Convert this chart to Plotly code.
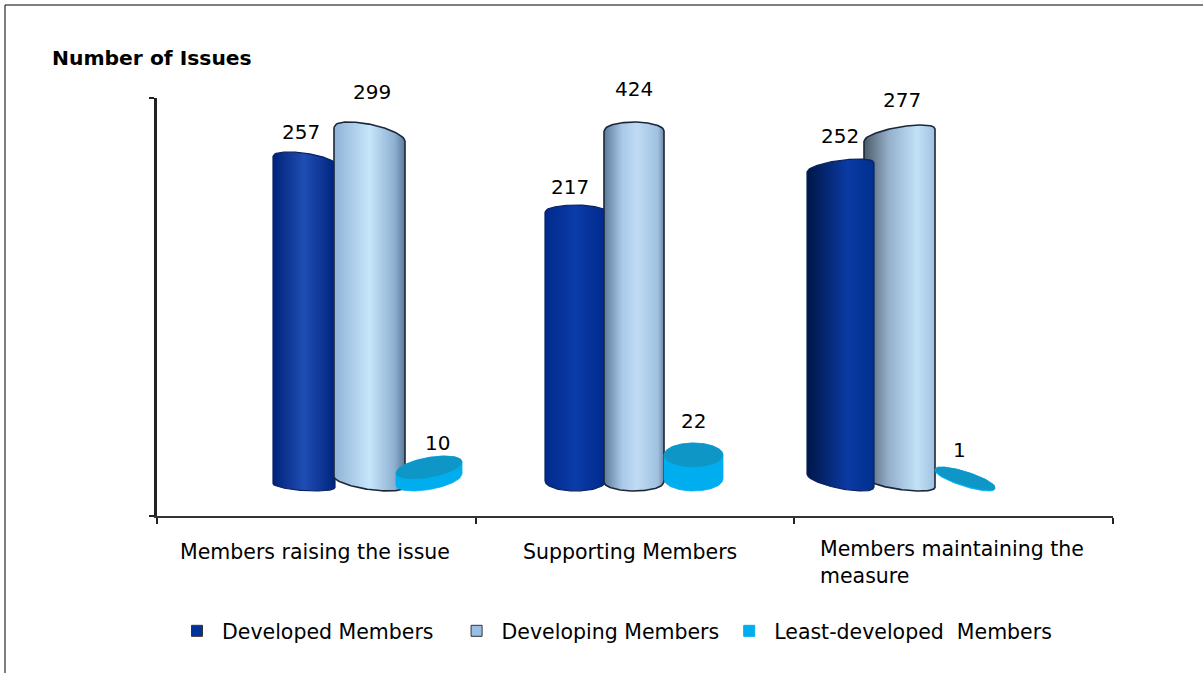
import plotly.graph_objects as go
import numpy as np

# ---- data ----
categories = ["Members raising the issue", "Supporting Members", "Members maintaining the<br>measure"]
series_names = ["Developed Members", "Developing Members", "Least-developed  Members"]
developed_values = [257, 217, 252]
developing_values = [299, 424, 277]
least_values = [10, 22, 1]
# The printed values are not proportional in the source picture, so drawn heights are read separately
developed_heights = [338, 285, 331]
developing_heights = [368, 368, 365]
least_heights = [34, 47, 23]

# ---- geometry of the pseudo 3D columns, in axis units ----
# left, right, top skew, top radius, bottom skew, bottom radius
developed_geom = [(273, 335, -4, 7, -2, 5), (545, 606, 0, 7, 0, 10), (807, 874, 4.5, 7, -6.5, 8)]
developing_geom = [(334, 405, -7, 10, -5, 8), (604, 664, 0, 9, 0, 9), (864, 935, 6, 8, -5, 7)]
least_geom = [(396, 462, 5.5, 10, 5.5, 10), (664, 723, 0, 12, 0, 12), (935, 995, -9, 7, -9, 7)]
# label centre x and centre y in figure pixels
label_pos = {"dev": [(301, 132), (570, 187), (840, 136)],
             "ing": [(372, 92), (634, 89), (902, 100)],
             "lst": [(437, 443), (693, 421), (959, 450)]}

GRAD_DEV = [[[0, "#00237a"], [0.5, "#1f4db3"], [1, "#00247e"]],
            [[0, "#002a8c"], [0.5, "#0b3ca8"], [1, "#00298c"]],
            [[0, "#001647"], [0.6, "#0b3aa3"], [1, "#00308f"]]]
GRAD_ING = [[[0, "#8fb2d6"], [0.5, "#c6e6fa"], [0.85, "#8fb0d2"], [1, "#5c7a98"]],
            [[0, "#5c7a98"], [0.3, "#a9c8e8"], [0.55, "#c0dcf4"], [0.9, "#9fc0e0"], [1, "#6d88a3"]],
            [[0, "#4c5a68"], [0.35, "#94b0cc"], [0.75, "#c2e2f8"], [1, "#a0c0e0"]]]
BODY_LST, CAP_LST = "#00aeef", "#0e96c6"
OUTLINE = "#1b2738"
LEFT_PX, RIGHT_PX, FLOOR_PX, AXIS_PX, TOP_PX = 157, 1113, 490, 516, 98
W, H = 1203, 673
FONT = "DejaVu Sans"
SIZE = 20.5


def px_x(px):
    return (px - LEFT_PX) / (RIGHT_PX - LEFT_PX)


def px_y(px):
    return (AXIS_PX - px) / (AXIS_PX - TOP_PX)


fig = go.Figure()


def half(left, right, centre, skew, radius, sign, n=60):
    """Half of a sheared ellipse: sign=+1 upper arc, -1 lower arc."""
    a = (right - left) / 2
    t = np.linspace(-1, 1, n)
    return left + a + a * t, centre + skew * t + sign * radius * np.sqrt(1 - t ** 2)


def column(height, geom, fill, line_color, name, lw=1.6):
    left, right, sk_t, r_t, sk_b, r_b = geom
    cap = height - np.hypot(sk_t, r_t)
    base = np.hypot(sk_b, r_b) - 1
    xt, yt = half(left, right, cap, sk_t, r_t, 1)
    xb, yb = half(left, right, base, sk_b, r_b, -1)
    x = np.r_[xt, xb[::-1], xt[0]]
    y = np.r_[yt, yb[::-1], yt[0]]
    fig.add_trace(go.Scatter(x=x, y=y, mode="lines", fill="toself", showlegend=False, hoverinfo="skip",
                             line=dict(color=line_color, width=lw), name=name, **fill))


def gradient(scale):
    return dict(fillgradient=dict(type="horizontal", colorscale=scale))


for g in (0, 1):
    column(developed_heights[g], developed_geom[g], gradient(GRAD_DEV[g]), "#0a2060", series_names[0], 1.2)
    column(developing_heights[g], developing_geom[g], gradient(GRAD_ING[g]), OUTLINE, series_names[1])
column(developing_heights[2], developing_geom[2], gradient(GRAD_ING[2]), OUTLINE, series_names[1])
column(developed_heights[2], developed_geom[2], gradient(GRAD_DEV[2]), "#0a2060", series_names[0], 1.2)

for g in range(3):
    left, right, sk_t, r_t, sk_b, r_b = least_geom[g]
    column(least_heights[g], least_geom[g], dict(fillcolor=BODY_LST), BODY_LST, series_names[2], 0.8)
    cap = least_heights[g] - np.hypot(sk_t, r_t)
    xu, yu = half(left, right, cap, sk_t, r_t, 1)
    xl, yl = half(left, right, cap, sk_t, r_t, -1)
    fig.add_trace(go.Scatter(x=np.r_[xu, xl[::-1]], y=np.r_[yu, yl[::-1]], mode="lines", fill="toself",
                             fillcolor=CAP_LST, line=dict(color=CAP_LST, width=0.5),
                             showlegend=False, hoverinfo="skip"))

# legend entries (trailing no-break spaces only widen the gap to the next entry, as in the reference)
legend_padding = ["\u00a0\u00a0", "", ""]
for name, pad, c in zip(series_names, legend_padding, ["#003399", "#99bfe6", "#00aeef"]):
    lc = "#00aeef" if c == "#00aeef" else "#333333"
    fig.add_trace(go.Scatter(x=[None], y=[None], mode="markers", name=name + pad,
                             marker=dict(symbol="square", size=11, color=c, line=dict(color=lc, width=1))))

# value labels
for values, key in [(developed_values, "dev"), (developing_values, "ing"), (least_values, "lst")]:
    for v, (lx, ly) in zip(values, label_pos[key]):
        fig.add_annotation(x=px_x(lx), y=px_y(ly), xref="paper", yref="paper", text=str(v), showarrow=False,
                           xanchor="center", yanchor="middle", font=dict(size=20, color="#000000", family=FONT))

# category labels
fig.add_annotation(x=px_x(315), y=px_y(552), xref="paper", yref="paper", text=categories[0], showarrow=False,
                   xanchor="center", yanchor="middle", font=dict(size=SIZE, color="#000000", family=FONT))
fig.add_annotation(x=px_x(630), y=px_y(552), xref="paper", yref="paper", text=categories[1], showarrow=False,
                   xanchor="center", yanchor="middle", font=dict(size=SIZE, color="#000000", family=FONT))
fig.add_annotation(x=px_x(818), y=px_y(562), xref="paper", yref="paper", text=categories[2], showarrow=False,
                   xanchor="left", align="left", yanchor="middle", font=dict(size=SIZE, color="#000000", family=FONT))

fig.add_annotation(x=px_x(52), y=px_y(58), xref="paper", yref="paper", text="<b>Number of Issues</b>",
                   showarrow=False, xanchor="left", yanchor="middle", xshift=-2,
                   font=dict(size=20.3, color="#000000", family=FONT))

fig.update_layout(
    width=W, height=H, autosize=False, paper_bgcolor="white", plot_bgcolor="white",
    margin=dict(l=LEFT_PX, r=W - RIGHT_PX, t=TOP_PX, b=H - AXIS_PX, pad=0),
    font=dict(family=FONT, size=SIZE, color="#000000"),
    xaxis=dict(range=[LEFT_PX, RIGHT_PX], tickvals=[157, 475.67, 794.33, 1113], ticks="outside", ticklen=6,
               tickwidth=1.5, tickcolor="#222222", showticklabels=False, showgrid=False, zeroline=False,
               showline=True, linecolor="#333333", linewidth=2),
    yaxis=dict(range=[FLOOR_PX - AXIS_PX, FLOOR_PX - TOP_PX], tickvals=[FLOOR_PX - AXIS_PX, FLOOR_PX - TOP_PX],
               ticks="outside", ticklen=5, tickwidth=1.5, tickcolor="#222222", showticklabels=False,
               showgrid=False, zeroline=False, showline=True, linecolor="#222222", linewidth=3),
    legend=dict(orientation="h", x=172 / W, y=1 - 631 / H, xref="container", yref="container",
                xanchor="left", yanchor="middle", itemwidth=40,
                font=dict(size=SIZE, family=FONT), bgcolor="rgba(0,0,0,0)"),
    shapes=[
        dict(type="line", xref="paper", yref="paper", x0=px_x(5), x1=px_x(1203), y0=px_y(5), y1=px_y(5),
             line=dict(color="#000000", width=1)),
        dict(type="line", xref="paper", yref="paper", x0=px_x(5), x1=px_x(5), y0=px_y(5), y1=px_y(673),
             line=dict(color="#000000", width=1)),
    ],
)
fig.write_html("out.html", config={"displayModeBar": False}, post_script="document.body.style.margin='0';")
